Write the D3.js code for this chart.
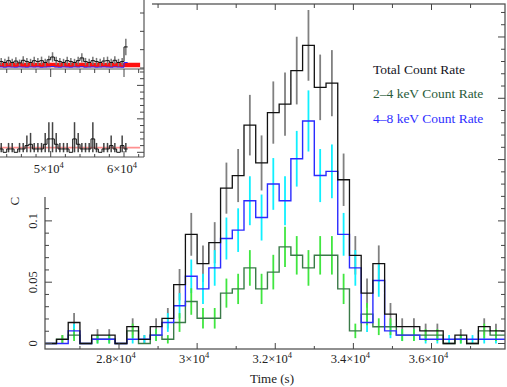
<!DOCTYPE html>
<html><head><meta charset="utf-8">
<script src="https://cdn.jsdelivr.net/npm/d3@7"></script>
<style>
body{margin:0;background:#fff}
svg{display:block}
text{font-family:"Liberation Serif","Times New Roman",serif}
</style>
</head><body>
<svg id="c" width="507" height="387"></svg>
<script>
// ---------- main light curve data (300 s bins, counts per bin) ----------
const binStart = 26100;
const binWidth = 300;
const exposure = 292;
const totalCounts = [0,1,5,0,2,2,0,4,1,4, 6,14,26,19,24,37,40,52,43,55, 57,65,71,61,62,39,21,12,19,7, 4,4,3,3,0,2,0,4,3,3];
const hardCounts  = [0,0,3,0,1,1,0,1,1,2, 5,9,16,13,18,25,27,34,30,38, 34,44,53,40,41,26,18,5,15,3, 2,2,1,1,1,1,1,1,1,1];
const softCounts  = [0,1,2,0,1,1,0,3,0,2, 1,5,10,6,6,12,13,18,13,17, 23,21,18,21,21,13,3,7,4,4, 2,2,2,2,0,1,0,3,2,2];

const xMajorTicks = [28000,30000,32000,34000,36000];
const xTickMantissa = ["2.8","3","3.2","3.4","3.6"];
const yMajorTicks = [0,0.05,0.1];
const yTickLabels = ["0","0.05","0.1"];
const legendLabels = ["Total Count Rate","2\u20134 keV Count Rate","4\u20138 keV Count Rate"];

// ---------- inset (long light curve, 500 s bins) ----------
const insetStart = 43000;
const insetWidth = 500;
const insetTopRate = [0.035,0.03,0.04,0.03,0.038,0.028,0.042,0.035,0.03,0.04,0.035,0.04,0.03,0.045,0.06,0.04,0.035,0.03,0.04,0.035,0.03,0.04,0.055,0.035,0.03,0.04,0.035,0.03,0.038,0.04,0.03,0.042,0.03,0.035,0.115];
const insetTopErr  = [0.02,0.02,0.022,0.02,0.02,0.018,0.022,0.02,0.02,0.022,0.02,0.022,0.02,0.022,0.026,0.022,0.02,0.02,0.022,0.02,0.02,0.022,0.025,0.02,0.02,0.022,0.02,0.02,0.02,0.022,0.02,0.022,0.02,0.02,0.045];
const insetTopBlue = [0.006,0.004,0.006,0.005,0.004,0.006,0.005,0.004,0.006,0.005,0.006,0.004,0.005,0.006,0.008,0.005,0.004,0.006,0.005,0.004,0.006,0.005,0.007,0.004,0.005,0.006,0.004,0.005,0.006,0.005,0.004,0.006,0.005,0.004,0.03];
const insetRedLevel = 0.0164;
const insetBotRate = [0.05,0,0.05,0.05,0,0.05,0.05,0.1,0.12,0.05,0.05,0.05,0.12,0.2,0.2,0.12,0.05,0.05,0.05,0,0.2,0.12,0.05,0.05,0.05,0.2,0.05,0,0.05,0.05,0.1,0.05,0,0.1,0.05];
const insetBotErr  = [0.09,0,0.09,0.09,0,0.09,0.09,0.15,0.17,0.09,0.09,0.09,0.17,0.25,0.25,0.17,0.09,0.09,0.09,0,0.25,0.17,0.09,0.09,0.09,0.25,0.09,0,0.09,0.09,0.15,0.09,0,0.15,0.09];
const insetPinkLevel = 0.07;
const insetTickMantissa = ["5","6"];
const insetMajorTicks = [50000,60000];

// ---------- layout ----------
const svg = d3.select("#c");
const L=45, R=505, T=4, B=349;
const x = d3.scaleLinear().domain([26105.6, 37881.6]).range([L,R]);
const y = d3.scaleLinear().domain([-0.00449, 0.2769]).range([B,T]);

svg.append("defs").append("clipPath").attr("id","mainclip")
  .append("rect").attr("x",L).attr("y",T).attr("width",R-L).attr("height",B-T);

const rate = c => c/exposure;
const err = c => Math.sqrt(c)/exposure;

function stepPath(vals, start, width, xs, ys){
  const pts = vals.map((v,i)=>[start+i*width, v]);
  pts.push([start+vals.length*width, vals[vals.length-1]]);
  return d3.line().x(d=>xs(d[0])).y(d=>ys(d[1])).curve(d3.curveStepAfter)(pts);
}

const plot = svg.append("g").attr("clip-path","url(#mainclip)");

function errBars(counts, color, w){
  plot.append("g").selectAll("line").data(counts.map((c,i)=>({c,i})).filter(d=>d.c>0))
    .join("line")
    .attr("x1",d=>x(binStart+(d.i+0.5)*binWidth)).attr("x2",d=>x(binStart+(d.i+0.5)*binWidth))
    .attr("y1",d=>y(rate(d.c)-err(d.c))).attr("y2",d=>y(rate(d.c)+err(d.c)))
    .attr("stroke",color).attr("stroke-width",w);
}
errBars(totalCounts,"#808080",1.8);
errBars(hardCounts,"#10f0ff",1.8);
errBars(softCounts,"#40e640",1.8);

plot.append("path").attr("d",stepPath(softCounts.map(rate),binStart,binWidth,x,y))
  .attr("fill","none").attr("stroke","#3a7a48").attr("stroke-width",1.4);
plot.append("path").attr("d",stepPath(hardCounts.map(rate),binStart,binWidth,x,y))
  .attr("fill","none").attr("stroke","#2b2bff").attr("stroke-width",1.4);
plot.append("path").attr("d",stepPath(totalCounts.map(rate),binStart,binWidth,x,y))
  .attr("fill","none").attr("stroke","#111").attr("stroke-width",1.3);

// frame
const axisCol = "#555";
svg.append("rect").attr("x",L).attr("y",T).attr("width",R-L).attr("height",B-T)
  .attr("fill","none").attr("stroke",axisCol).attr("stroke-width",1.3);

// x ticks
const xMinor = d3.range(27000, 38000, 1000).filter(t=>!xMajorTicks.includes(t));
const tk = svg.append("g").attr("stroke","#444").attr("stroke-width",1);
xMajorTicks.forEach(t=>{
  tk.append("line").attr("x1",x(t)).attr("x2",x(t)).attr("y1",B).attr("y2",B-6);
  tk.append("line").attr("x1",x(t)).attr("x2",x(t)).attr("y1",T).attr("y2",T+6);
});
xMinor.forEach(t=>{
  tk.append("line").attr("x1",x(t)).attr("x2",x(t)).attr("y1",B).attr("y2",B-3);
  tk.append("line").attr("x1",x(t)).attr("x2",x(t)).attr("y1",T).attr("y2",T+4);
});
// y ticks
const yAll = d3.range(0, 28).map(i=>i/100);
yAll.forEach(v=>{
  const major = Math.round(v*100)%5===0;
  const len = major?7:4;
  tk.append("line").attr("x1",L).attr("x2",L+len).attr("y1",y(v)).attr("y2",y(v));
  tk.append("line").attr("x1",R).attr("x2",R-len).attr("y1",y(v)).attr("y2",y(v));
});

// tick labels
xMajorTicks.forEach((t,i)=>{
  const tx = svg.append("text").attr("x",x(t)-3).attr("y",363).attr("text-anchor","middle")
    .attr("font-size",12.5).attr("fill","#222").text(xTickMantissa[i]+"\u00d710");
  tx.append("tspan").attr("dy",-5).attr("font-size",8.5).text("4");
});
yMajorTicks.forEach((v,i)=>{
  svg.append("text").attr("transform",`translate(37,${y(v)}) rotate(-90)`)
    .attr("text-anchor","middle").attr("font-size",12.5).attr("fill","#222").text(yTickLabels[i]);
});

svg.append("text").attr("x",272).attr("y",383).attr("text-anchor","middle")
  .attr("font-size",13).attr("fill","#222").text("Time (s)");
svg.append("text").attr("transform","translate(18.5,176) rotate(-90)")
  .attr("text-anchor","middle").attr("font-size",13).attr("fill","#222").text("Count Rate");

// legend
const legCols = ["#141424","#2a5c3c","#2f2fff"];
legendLabels.forEach((s,i)=>{
  svg.append("text").attr("x",373).attr("y",73.5+i*24.6).attr("font-size",13.5)
    .attr("fill",legCols[i]).text(s);
});

// ---------- inset ----------
const ins = svg.append("g");
ins.append("rect").attr("x",0).attr("y",0).attr("width",152).attr("height",197).attr("fill","#fff");
const ix = d3.scaleLinear().domain([50000,60000]).range([50.7,124]);
const iyT = d3.scaleLinear().domain([0,0.3]).range([68,13]);
const iyB = d3.scaleLinear().domain([0,1.2]).range([152.3,72]);
svg.append("defs").append("clipPath").attr("id","insclip")
  .append("rect").attr("x",0).attr("y",0).attr("width",144).attr("height",160);
const ic = ins.append("g").attr("clip-path","url(#insclip)");

// top panel
ic.append("line").attr("x1",0).attr("x2",ix(62200)).attr("y1",iyT(insetRedLevel)).attr("y2",iyT(insetRedLevel))
  .attr("stroke","#ff1010").attr("stroke-width",4.5);
ic.append("path").attr("d",stepPath(insetTopBlue,insetStart,insetWidth,ix,iyT))
  .attr("fill","none").attr("stroke","#2b2bff").attr("stroke-width",1);
ic.append("g").selectAll("line").data(insetTopRate).join("line")
  .attr("x1",(d,i)=>ix(insetStart+(i+0.5)*insetWidth)).attr("x2",(d,i)=>ix(insetStart+(i+0.5)*insetWidth))
  .attr("y1",(d,i)=>iyT(d-insetTopErr[i])).attr("y2",(d,i)=>iyT(d+insetTopErr[i]))
  .attr("stroke","#777").attr("stroke-width",1.5);
ic.append("path").attr("d",stepPath(insetTopRate,insetStart,insetWidth,ix,iyT))
  .attr("fill","none").attr("stroke","#111").attr("stroke-width",1);

// bottom panel
ic.append("line").attr("x1",0).attr("x2",ix(62200)).attr("y1",iyB(insetPinkLevel)).attr("y2",iyB(insetPinkLevel))
  .attr("stroke","#ff9090").attr("stroke-width",1.6);
ic.append("g").selectAll("line").data(insetBotRate.map((v,i)=>({v,i})).filter(d=>d.v>0)).join("line")
  .attr("x1",d=>ix(insetStart+(d.i+0.5)*insetWidth)).attr("x2",d=>ix(insetStart+(d.i+0.5)*insetWidth))
  .attr("y1",d=>iyB(Math.max(0,d.v-insetBotErr[d.i]))).attr("y2",d=>iyB(d.v+insetBotErr[d.i]))
  .attr("stroke","#444").attr("stroke-width",1.5);
ic.append("path").attr("d",stepPath(insetBotRate,insetStart,insetWidth,ix,iyB))
  .attr("fill","none").attr("stroke","#111").attr("stroke-width",1);

// inset axes
const ia = ins.append("g").attr("stroke","#555").attr("stroke-width",1.2);
ia.append("line").attr("x1",144).attr("x2",144).attr("y1",0).attr("y2",157);
ia.append("line").attr("x1",0).attr("x2",144).attr("y1",69).attr("y2",69);
ia.append("line").attr("x1",0).attr("x2",144).attr("y1",157).attr("y2",157);
const iMinor = d3.range(44000, 63000, 2000).filter(t=>!insetMajorTicks.includes(t));
const it = ins.append("g").attr("stroke","#444").attr("stroke-width",1);
iMinor.forEach(t=>{
  it.append("line").attr("x1",ix(t)).attr("x2",ix(t)).attr("y1",69).attr("y2",73);
  it.append("line").attr("x1",ix(t)).attr("x2",ix(t)).attr("y1",157).attr("y2",154);
});
insetMajorTicks.forEach(t=>{
  it.append("line").attr("x1",ix(t)).attr("x2",ix(t)).attr("y1",69).attr("y2",77);
  it.append("line").attr("x1",ix(t)).attr("x2",ix(t)).attr("y1",157).attr("y2",151);
});
[0,0.1,0.2,0.3].forEach(v=>{
  it.append("line").attr("x1",144).attr("x2",140).attr("y1",iyT(v)).attr("y2",iyT(v));
});
d3.range(0,13).forEach(k=>{
  const len = (k%5===0)?7:4;
  it.append("line").attr("x1",144).attr("x2",144-len).attr("y1",iyB(k/10)).attr("y2",iyB(k/10));
});
insetMajorTicks.forEach((t,i)=>{
  const tx = ins.append("text").attr("x",ix(t)-2).attr("y",173).attr("text-anchor","middle")
    .attr("font-size",12.5).attr("fill","#222").text(insetTickMantissa[i]+"\u00d710");
  tx.append("tspan").attr("dy",-5).attr("font-size",8.5).text("4");
});
</script>
</body></html>
